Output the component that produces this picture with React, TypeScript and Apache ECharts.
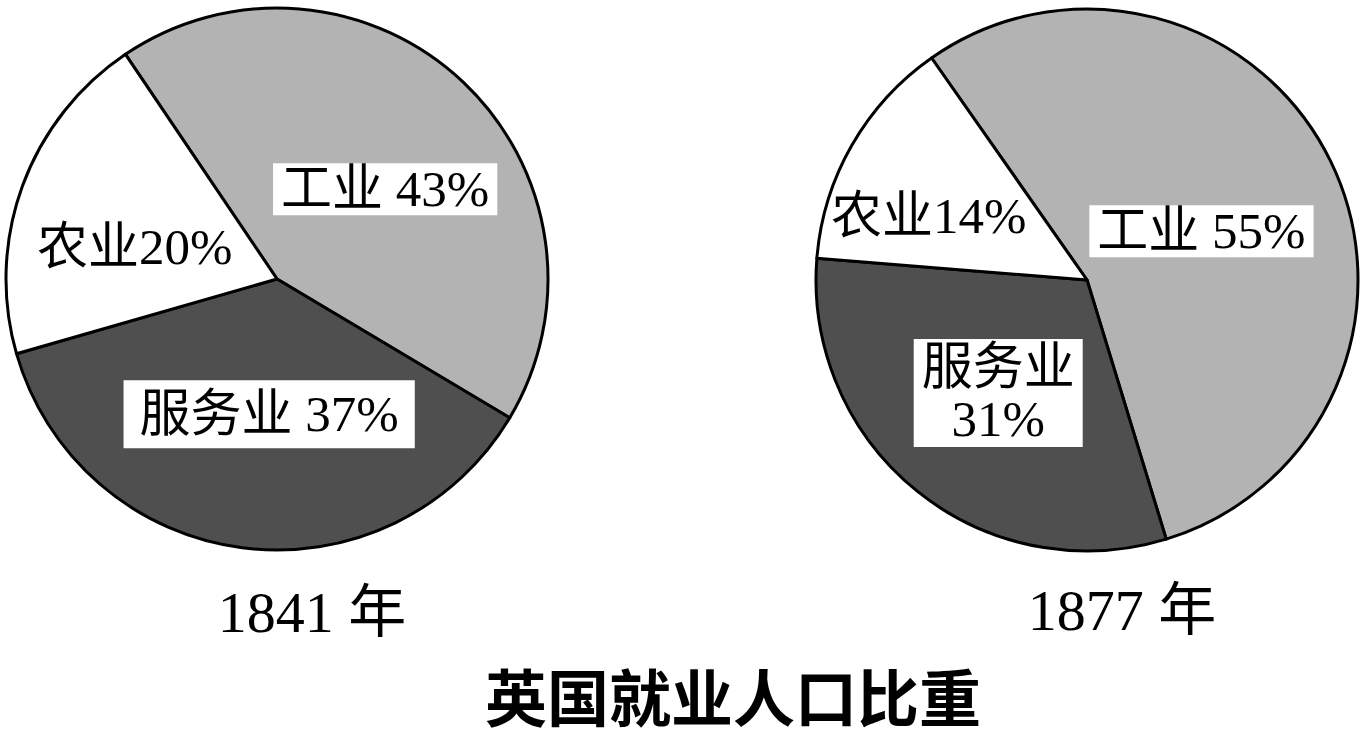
import { useEffect, useRef } from 'react';
import * as echarts from 'echarts';

const sectors = ['工业', '服务业', '农业'];
const values1841 = [43, 37, 20];
const values1877 = [55, 31, 14];
const yearLabels = ['1841 年', '1877 年'];
const chartTitle = '英国就业人口比重';
// text between the sector name and the percent, per slice
const sep1841 = [' ', ' ', ''];
const sep1877 = [' ', '\n', ''];

const colors = ['#b3b3b3', '#4f4f4f', '#ffffff'];
const FONT = "'Liberation Serif', 'Noto Sans CJK SC', serif";

// nudges from the default "inside" label spot
const shift1841 = [[13, 11], [10, -2], [-12, 15]];
const shift1877 = [[-10, 12], [-2, 5], [-38, 5]];

function sliceLabel(i: number, seps: string[]) {
    if (i === 2) return { backgroundColor: 'transparent' };
    if (i === 1) return seps[i] === '\n' ? { padding: [2, 8] } : { padding: [8, 16] };
    return {};
}

function buildPie(values: number[], seps: string[], shifts: number[][], center: [number, number], radius: number, startAngle: number) {
    return {
        type: 'pie' as const,
        center,
        radius,
        startAngle,
        clockwise: true,
        silent: true,
        avoidLabelOverlap: false,
        itemStyle: { borderColor: '#000', borderWidth: 3 },
        label: {
            show: true,
            position: 'inside' as const,
            color: '#000',
            fontFamily: FONT,
            fontSize: 51,
            lineHeight: 52,
            align: 'center' as const,
            backgroundColor: '#fff',
            padding: [0, 8],
            formatter: (p: any) => `${p.name}${seps[p.dataIndex]}${p.value}%`
        },
        labelLine: { show: false },
        labelLayout: (p: any) => ({ dx: shifts[p.dataIndex][0], dy: shifts[p.dataIndex][1] }),
        emphasis: { disabled: true },
        data: values.map((v, i) => ({
            name: sectors[i],
            value: v,
            itemStyle: { color: colors[i] },
            label: sliceLabel(i, seps)
        }))
    };
}

export default function App() {
    const chartRef = useRef<HTMLDivElement>(null);

    useEffect(() => {
        if (!chartRef.current) return;
        document.body.style.margin = '0';
        const chart = echarts.init(chartRef.current, undefined, { renderer: 'svg' });

        chart.setOption({
            animation: false,
            backgroundColor: '#fff',
            title: [
                {
                    text: yearLabels[0],
                    left: 307,
                    top: 578,
                    textAlign: 'center',
                    textStyle: { fontFamily: FONT, fontSize: 58, fontWeight: 'normal', color: '#000' }
                },
                {
                    text: yearLabels[1],
                    left: 1117,
                    top: 576,
                    textAlign: 'center',
                    textStyle: { fontFamily: FONT, fontSize: 58, fontWeight: 'normal', color: '#000' }
                },
                {
                    text: chartTitle,
                    left: 733,
                    top: 668,
                    padding: 0,
                    textAlign: 'center',
                    textStyle: { fontFamily: FONT, fontSize: 62, lineHeight: 66, fontWeight: 'bold', color: '#000' }
                }
            ],
            series: [
                buildPie(values1841, sep1841, shift1841, [277, 279], 271, 124),
                buildPie(values1877, sep1877, shift1877, [1087, 280], 271, 125)
            ]
        });

        return () => {
            chart.dispose();
        };
    }, []);

    return <div ref={chartRef} style={{ width: '1361px', height: '738px' }} />;
}
